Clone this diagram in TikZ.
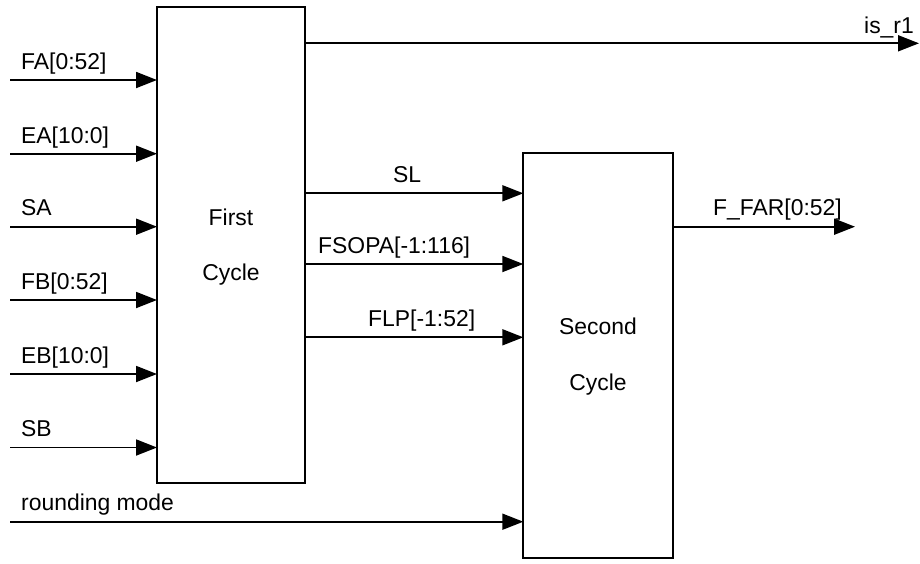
\documentclass[tikz,border=0pt]{standalone}
\usepackage{fontspec}
\setmainfont{Liberation Sans}
\usetikzlibrary{arrows.meta}
\begin{document}
\begin{tikzpicture}[x=1pt,y=-1pt,
  blockbox/.style={draw,line width=1.8pt,inner sep=0pt,outer sep=0pt,anchor=north west},
  sig/.style={line width=1.8pt,-{Triangle[length=21pt,width=16pt]}},
  lbl/.style={inner sep=0pt,anchor=base west,font=\fontsize{22.9}{27}\selectfont},
  ctr/.style={inner sep=0pt,anchor=base,font=\fontsize{22.9}{27}\selectfont}]
\useasboundingbox (0,0) rectangle (920,563);
% blocks
\node[blockbox,minimum width=148pt,minimum height=476pt] (c1) at (157,7) {};
\node[blockbox,minimum width=149.4pt,minimum height=404.7pt] (c2) at (523.3,153.3) {};
\node[ctr] (t1a) at (231,225) {First};
\node[ctr] (t1b) at (231,280.7) {Cycle};
\node[ctr] (t2a) at (598,334.3) {Second};
\node[ctr] (t2b) at (598,390) {Cycle};
% input start points
\coordinate (iFA) at (10,80);
\coordinate (iEA) at (10,153.7);
\coordinate (iSA) at (10,226.7);
\coordinate (iFB) at (10,300);
\coordinate (iEB) at (10,374);
\coordinate (iSB) at (10,447.5);
\coordinate (iRM) at (10,521.7);
\coordinate (oR1) at (919,43.3);
\coordinate (oFF) at (855,226.7);
\coordinate (mSL) at (305,193.3);
\coordinate (mFS) at (305,264);
\coordinate (mFL) at (305,337.3);
% inputs
\draw[sig] (iFA) -- (iFA -| c1.west);
\draw[sig] (iEA) -- (iEA -| c1.west);
\draw[sig] (iSA) -- (iSA -| c1.west);
\draw[sig] (iFB) -- (iFB -| c1.west);
\draw[sig] (iEB) -- (iEB -| c1.west);
\draw[sig] (iSB) -- (iSB -| c1.west);
\draw[sig] (iRM) -- (iRM -| c2.west);
\node[lbl] (lFA) at (21,69.3) {FA[0:52]};
\node[lbl] (lEA) at (21,143.5) {EA[10:0]};
\node[lbl] (lSA) at (21,215.7) {SA};
\node[lbl] (lFB) at (21,289) {FB[0:52]};
\node[lbl] (lEB) at (21,363) {EB[10:0]};
\node[lbl] (lSB) at (21,436.5) {SB};
\node[lbl] (lRM) at (21,510.5) {rounding mode};
% between blocks
\draw[sig] (mSL -| c1.east) -- (mSL -| c2.west);
\draw[sig] (mFS -| c1.east) -- (mFS -| c2.west);
\draw[sig] (mFL -| c1.east) -- (mFL -| c2.west);
\node[lbl] (lSL) at (393,182.7) {SL};
\node[lbl] (lFS) at (318,253) {FSOPA[-1:116]};
\node[lbl] (lFL) at (368,326.7) {FLP[-1:52]};
% outputs
\draw[sig] (oR1 -| c1.east) -- (oR1);
\node[lbl] (lR1) at (864,33.3) {is\_r1};
\draw[sig] (oFF -| c2.east) -- (oFF);
\node[lbl] (lFF) at (713,215) {F\_FAR[0:52]};
\end{tikzpicture}
\end{document}
